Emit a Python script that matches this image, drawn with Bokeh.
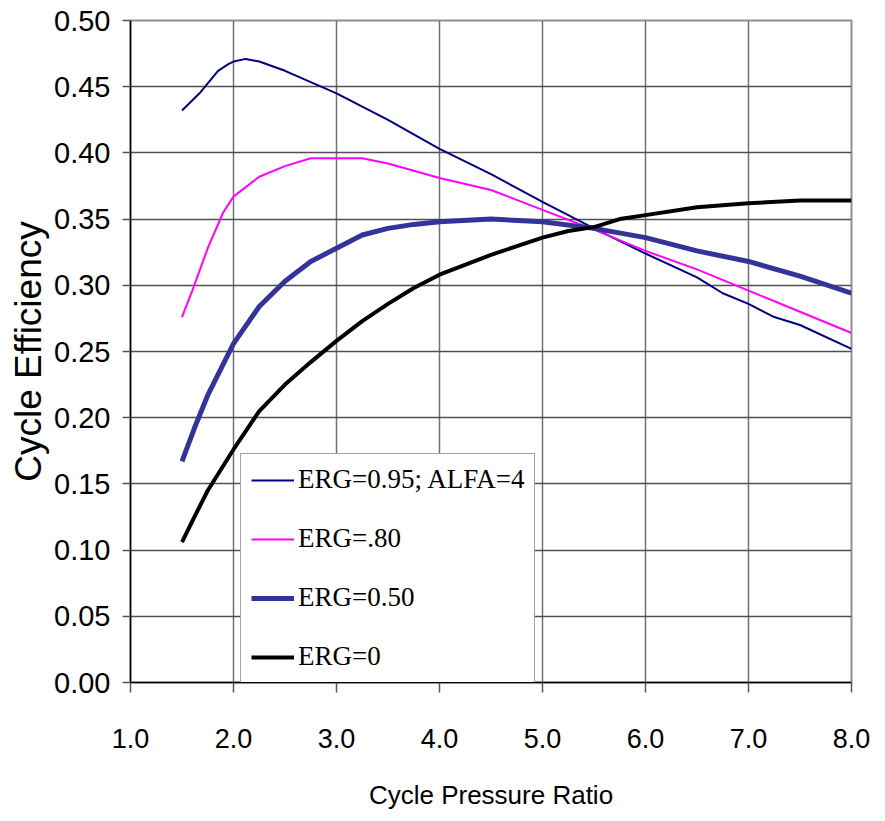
from bokeh.plotting import figure
from bokeh.models import Range1d, FixedTicker, NumeralTickFormatter, Legend, LegendItem
from bokeh.embed import file_html
from bokeh.resources import INLINE

# ---- data ----
x_erg95 = [1.5, 1.67, 1.85, 1.95, 2.0, 2.12, 2.25, 2.5, 3.0, 3.5, 4.0, 4.5, 5.0, 5.5, 6.0, 6.5, 6.75, 7.0, 7.25, 7.5, 8.0]
y_erg95 = [0.432, 0.445, 0.462, 0.467, 0.469, 0.471, 0.469, 0.462, 0.445, 0.425, 0.403, 0.384, 0.363, 0.343, 0.324, 0.306, 0.294, 0.286, 0.276, 0.270, 0.252]

x_erg80 = [1.5, 1.6, 1.75, 1.9, 2.0, 2.25, 2.5, 2.75, 3.0, 3.25, 3.5, 4.0, 4.5, 5.0, 5.5, 6.0, 6.5, 7.0, 7.5, 8.0]
y_erg80 = [0.276, 0.296, 0.328, 0.355, 0.367, 0.382, 0.390, 0.396, 0.396, 0.396, 0.392, 0.381, 0.372, 0.357, 0.342, 0.326, 0.312, 0.296, 0.280, 0.264]

x_erg50 = [1.5, 1.62, 1.75, 2.0, 2.25, 2.5, 2.75, 3.0, 3.25, 3.5, 3.75, 4.0, 4.5, 5.0, 5.5, 6.0, 6.5, 7.0, 7.5, 8.0]
y_erg50 = [0.167, 0.192, 0.217, 0.256, 0.284, 0.303, 0.318, 0.328, 0.338, 0.343, 0.346, 0.348, 0.350, 0.348, 0.343, 0.336, 0.326, 0.318, 0.307, 0.294]

x_erg0 = [1.5, 1.62, 1.75, 2.0, 2.25, 2.5, 2.75, 3.0, 3.25, 3.5, 3.75, 4.0, 4.5, 5.0, 5.25, 5.5, 5.75, 6.0, 6.5, 7.0, 7.5, 8.0]
y_erg0 = [0.106, 0.125, 0.145, 0.176, 0.205, 0.225, 0.242, 0.258, 0.273, 0.286, 0.298, 0.308, 0.323, 0.336, 0.341, 0.344, 0.350, 0.353, 0.359, 0.362, 0.364, 0.364]

x_ticks = [1, 2, 3, 4, 5, 6, 7, 8]
y_ticks = [0.0, 0.05, 0.10, 0.15, 0.20, 0.25, 0.30, 0.35, 0.40, 0.45, 0.50]

labels = ["ERG=0.95; ALFA=4", "ERG=.80", "ERG=0.50", "ERG=0"]

# ---- figure ----
p = figure(width=876, height=813, output_backend="svg", toolbar_location=None,
           x_range=Range1d(1, 8), y_range=Range1d(0, 0.5),
           min_border_left=130, min_border_right=25, min_border_top=20, min_border_bottom=131)
p.background_fill_color = "white"
p.border_fill_color = "white"
p.outline_line_color = "#909090"
p.outline_line_width = 2

p.xaxis.ticker = FixedTicker(ticks=x_ticks)
p.yaxis.ticker = FixedTicker(ticks=y_ticks)
p.xaxis.formatter = NumeralTickFormatter(format="0.0")
p.yaxis.formatter = NumeralTickFormatter(format="0.00")

for ax in (p.xaxis[0], p.yaxis[0]):
    ax.axis_line_color = "black"
    ax.axis_line_width = 1.5
    ax.major_tick_line_color = "#555555"
    ax.major_tick_line_width = 1.5
    ax.major_tick_in = 0
    ax.minor_tick_line_color = None
    ax.major_label_text_font = "Liberation Sans"
    ax.major_label_text_color = "black"
    ax.axis_label_text_font = "Liberation Sans"
    ax.axis_label_text_font_style = "normal"
    ax.axis_label_text_color = "black"

p.xaxis.major_tick_out = 10
p.yaxis.major_tick_out = 8
p.xaxis.major_label_text_font_size = "27px"
p.yaxis.major_label_text_font_size = "29px"
p.xaxis.major_label_standoff = 36
p.yaxis.major_label_standoff = 12
p.xaxis.axis_label = "Cycle Pressure Ratio"
p.yaxis.axis_label = "Cycle Efficiency"
p.xaxis.axis_label_text_font_size = "26px"
p.yaxis.axis_label_text_font_size = "37px"
p.xaxis.axis_label_standoff = 29
p.yaxis.axis_label_standoff = 2

p.xgrid.grid_line_color = "#707070"
p.xgrid.grid_line_width = 1.5
p.ygrid.grid_line_color = "#505050"
p.ygrid.grid_line_width = 1.5

r1 = p.line(x_erg95, y_erg95, line_color="#000080", line_width=2)
r2 = p.line(x_erg80, y_erg80, line_color="#FF00FF", line_width=2)
r3 = p.line(x_erg50, y_erg50, line_color="#333399", line_width=5)
r4 = p.line(x_erg0, y_erg0, line_color="black", line_width=4)

legend = Legend(items=[LegendItem(label=labels[0], renderers=[r1]),
                       LegendItem(label=labels[1], renderers=[r2]),
                       LegendItem(label=labels[2], renderers=[r3]),
                       LegendItem(label=labels[3], renderers=[r4])],
                location=(110, -1))
legend.label_text_font = "Liberation Serif"
legend.label_text_font_size = "27px"
legend.label_text_color = "black"
legend.glyph_width = 43
legend.glyph_height = 30
legend.label_height = 30
legend.label_standoff = 4
legend.spacing = 28
legend.padding = 10
legend.margin = 0
legend.border_line_color = "#444444"
legend.border_line_width = 1.5
legend.background_fill_color = "white"
legend.background_fill_alpha = 1.0
p.add_layout(legend, "center")

open("out.html", "w").write(file_html(p, INLINE))
